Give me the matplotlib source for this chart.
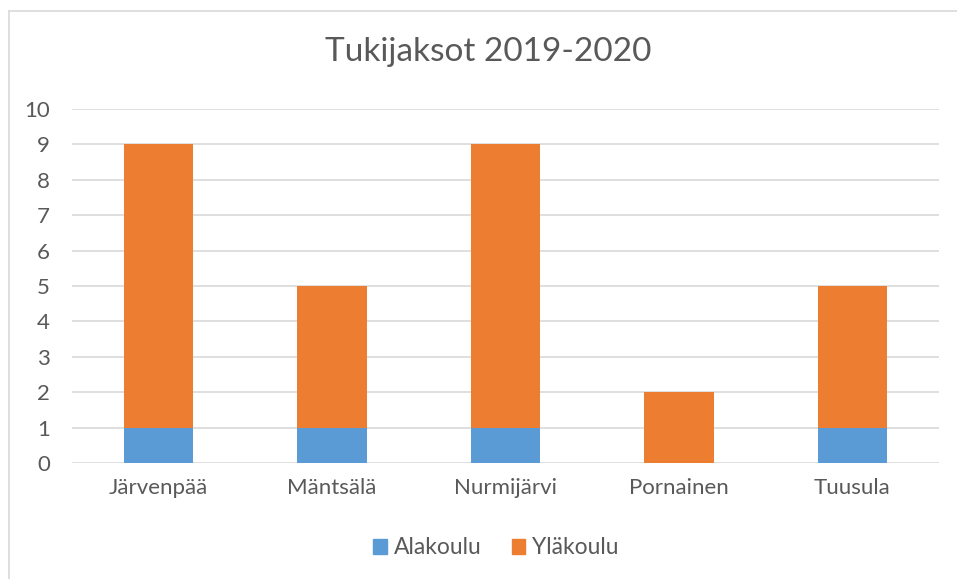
import numpy as np
import matplotlib.pyplot as plt
from matplotlib.lines import Line2D
from matplotlib.patches import Patch

# data
kunnat = ["Järvenpää", "Mäntsälä", "Nurmijärvi", "Pornainen", "Tuusula"]
alakoulu = [1, 1, 1, 0, 1]
ylakoulu = [8, 4, 8, 2, 4]
yticks = list(range(0, 11))

BLUE = "#5B9BD5"
ORANGE = "#ED7D31"
TXT = "#595959"
GRID = "#D9D9D9"

plt.rcParams["font.family"] = ["Lato", "DejaVu Sans"]

W, H = 957, 579
fig = plt.figure(figsize=(W / 100, H / 100), dpi=100)

# chart border (only left and top visible, rest is cropped)
fig.add_artist(Line2D([8.5 / W, 8.5 / W], [0, 1 - 10.5 / H], transform=fig.transFigure, color=GRID, lw=1.2))
fig.add_artist(Line2D([8.5 / W, 1], [1 - 10.5 / H, 1 - 10.5 / H], transform=fig.transFigure, color=GRID, lw=1.2))

ax = fig.add_axes([72 / W, 1 - 463 / H, (939 - 72) / W, (463 - 109) / H])
x = np.arange(len(kunnat))
ax.bar(x, alakoulu, width=0.4, color=BLUE, zorder=3, label="Alakoulu")
ax.bar(x, ylakoulu, width=0.4, bottom=alakoulu, color=ORANGE, zorder=3, label="Yläkoulu")

ax.set_xlim(-0.5, len(kunnat) - 0.5)
ax.set_ylim(0, 10)
ax.set_yticks(yticks)
ax.set_xticks(x)
ax.set_xticklabels(kunnat)
ax.yaxis.grid(True, color=GRID, lw=1.2, zorder=0)
for s in ax.spines.values():
    s.set_visible(False)
ax.tick_params(axis="both", length=0, labelsize=16, labelcolor=TXT)
ax.tick_params(axis="x", pad=11)
ax.tick_params(axis="y", pad=16)

fig.text(488 / W, 1 - 52 / H, "Tukijaksot 2019-2020", ha="center", va="center", fontsize=24, color=TXT)

handles = [Patch(color=BLUE), Patch(color=ORANGE)]
fig.legend(handles, ["Alakoulu", "Yläkoulu"], loc="center", bbox_to_anchor=(496 / W, 1 - 548 / H),
           ncol=2, frameon=False, fontsize=16.5, labelcolor=TXT, handlelength=0.6, handleheight=0.6,
           handletextpad=0.3, columnspacing=1.3)

fig.savefig("out.png", dpi=100)
